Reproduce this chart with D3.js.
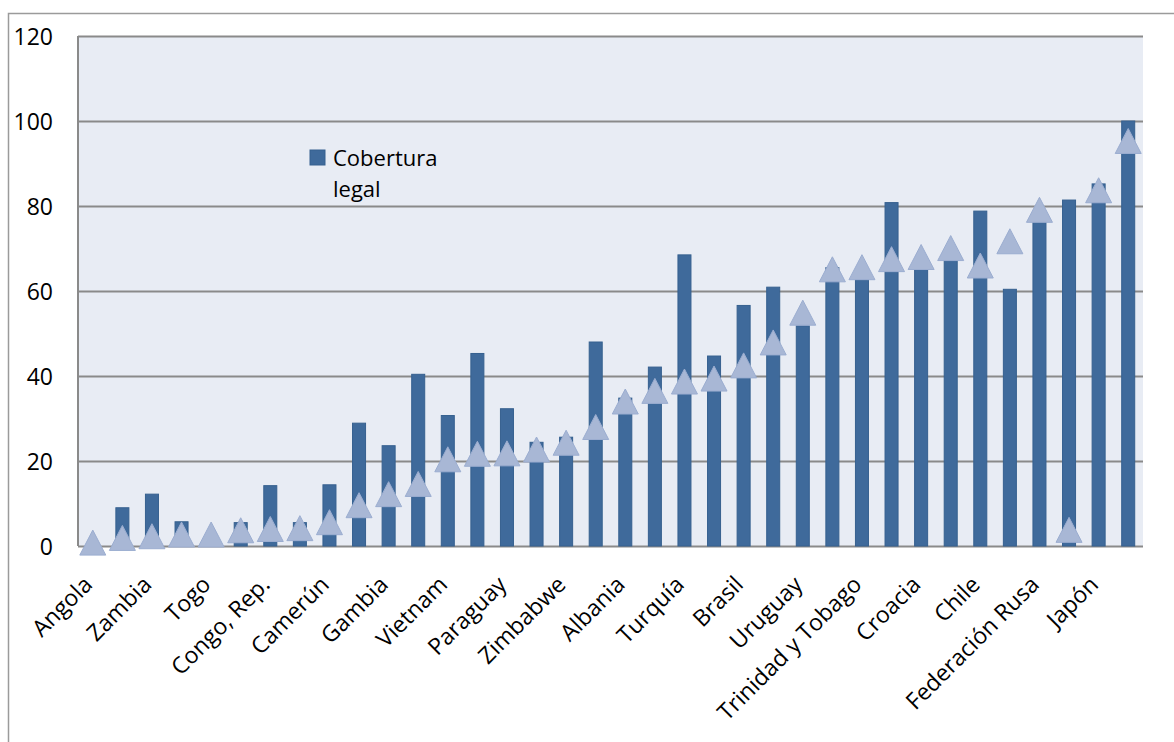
<!DOCTYPE html>
<html>
<head>
<meta charset="utf-8">
<script src="https://cdn.jsdelivr.net/npm/d3@7"></script>
<style>
  html, body { margin: 0; padding: 0; background: #ffffff; }
  svg { display: block; }
  text { font-family: "Open Sans", "Liberation Sans", sans-serif; fill: #000; }
</style>
</head>
<body>
<svg id="chart" width="1174" height="742"></svg>
<script>
// Country labels (only every other category carries a visible label)
const tickLabels = [
  "Angola", "", "Zambia", "", "Togo", "", "Congo, Rep.", "", "Camerún", "",
  "Gambia", "", "Vietnam", "", "Paraguay", "", "Zimbabwe", "", "Albania", "",
  "Turquía", "", "Brasil", "", "Uruguay", "", "Trinidad y Tobago", "", "Croacia", "",
  "Chile", "", "Federación Rusa", "", "Japón", ""
];

// Cobertura legal (bars)
const coberturaLegal = [
  0, 9.0, 12.2, 5.7, 0, 5.5, 14.2, 5.5, 14.4, 28.9,
  23.6, 40.4, 30.7, 45.3, 32.3, 24.4, 25.6, 48.0, 34.8, 42.1,
  68.5, 44.7, 56.6, 60.9, 51.8, 65.5, 62.6, 80.8, 65.4, 67.3,
  78.8, 60.4, 78.5, 81.4, 85.2, 100
];

// Cobertura efectiva (triangle markers)
const coberturaEfectiva = [
  0.8, 1.9, 2.3, 2.7, 2.7, 3.7, 4.0, 4.2, 5.6, 9.6,
  12.2, 14.6, 20.4, 21.7, 21.8, 22.7, 24.3, 28.0, 34.0, 36.5,
  38.7, 39.4, 42.5, 47.9, 54.9, 65.1, 65.6, 67.5, 68.0, 70.1,
  66.0, 71.7, 79.1, 3.8, 83.7, 95.3
];

const yTicks = [0, 20, 40, 60, 80, 100, 120];
const legendLines = ["Cobertura", "legal"];

const svg = d3.select("#chart");

// Outer chart frame
svg.append("rect")
  .attr("x", 8.5).attr("y", 13.5)
  .attr("width", 1180).attr("height", 760)
  .attr("fill", "#ffffff")
  .attr("stroke", "#9b9b9b").attr("stroke-width", 1.5);

const plot = { left: 78, right: 1143, top: 36, bottom: 546 };

const x = d3.scaleBand()
  .domain(d3.range(tickLabels.length))
  .range([plot.left, plot.right])
  .paddingInner(0.56)
  .paddingOuter(0.28);

const y = d3.scaleLinear()
  .domain([0, 120])
  .range([plot.bottom, plot.top]);

// Plot background
svg.append("rect")
  .attr("x", plot.left).attr("y", plot.top)
  .attr("width", plot.right - plot.left)
  .attr("height", plot.bottom - plot.top)
  .attr("fill", "#e8ecf4");

// Horizontal gridlines
const yAxis = d3.axisLeft(y)
  .tickValues(yTicks)
  .tickSize(-(plot.right - plot.left))
  .tickFormat(d3.format("d"));

const gy = svg.append("g")
  .attr("transform", `translate(${plot.left},0)`)
  .call(yAxis);
gy.select(".domain").remove();
gy.selectAll(".tick line")
  .attr("stroke", "#8a8a8a").attr("stroke-width", 2);
gy.selectAll(".tick text")
  .attr("x", -25)
  .attr("dy", "0.36em")
  .style("font-size", "23px")
  .style("font-family", "'Open Sans', sans-serif")
  .attr("fill", "#000");

// Left axis line
svg.append("line")
  .attr("x1", plot.left).attr("x2", plot.left)
  .attr("y1", plot.top).attr("y2", plot.bottom)
  .attr("stroke", "#8a8a8a").attr("stroke-width", 2);

// Bars
const bw = x.bandwidth();
svg.append("g").selectAll("rect")
  .data(coberturaLegal)
  .join("rect")
  .attr("x", (d, i) => x(i))
  .attr("y", d => y(d))
  .attr("width", bw)
  .attr("height", d => y(0) - y(d))
  .attr("fill", "#3f6a9b")
  .attr("stroke", "#36608f")
  .attr("stroke-width", 1);

// Triangle markers
const triW = 26, triH = 25;
svg.append("g").selectAll("path")
  .data(coberturaEfectiva)
  .join("path")
  .attr("transform", (d, i) => `translate(${x(i) + bw / 2},${y(d)})`)
  .attr("d", `M0,${-triH / 2}L${triW / 2},${triH / 2}L${-triW / 2},${triH / 2}Z`)
  .attr("fill", "#a8b7d5")
  .attr("stroke", "#9badd0")
  .attr("stroke-width", 1);

// Category labels, rotated
svg.append("g").selectAll("text")
  .data(tickLabels)
  .join("text")
  .attr("transform", (d, i) => `translate(${x(i) + bw / 2 + 1},586) rotate(-45)`)
  .attr("text-anchor", "end")
  .style("font-size", "23px")
  .text(d => d);

// Legend
const lg = svg.append("g").attr("transform", "translate(310,150)");
lg.append("rect")
  .attr("width", 15).attr("height", 15)
  .attr("fill", "#3f6a9b").attr("stroke", "#36608f");
lg.selectAll("text")
  .data(legendLines)
  .join("text")
  .attr("x", 23)
  .attr("y", (d, i) => 16 + i * 31)
  .style("font-size", "22px")
  .text(d => d);
</script>
</body>
</html>
